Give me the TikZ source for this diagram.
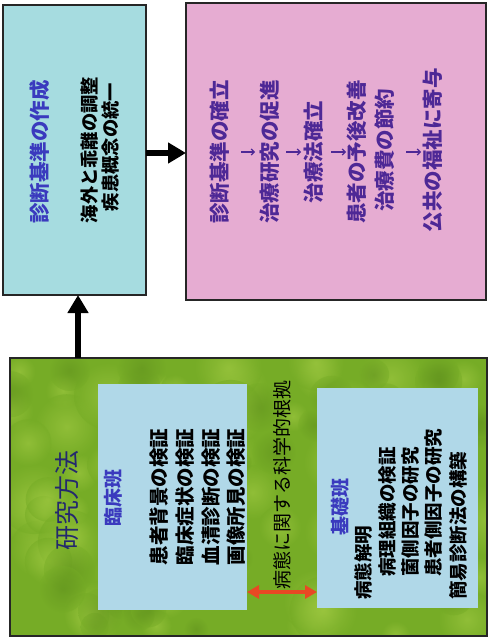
\documentclass[tikz,border=0pt]{standalone}
\usepackage{fontspec}
\setmainfont{Noto Sans CJK JP}
\usetikzlibrary{arrows.meta}
\definecolor{boxblue}{RGB}{166,220,224}
\definecolor{boxpink}{RGB}{230,172,210}
\definecolor{boxgreen}{RGB}{118,172,38}
\definecolor{greenlight}{RGB}{165,205,70}
\definecolor{greendark}{RGB}{92,140,28}
\definecolor{innerblue}{RGB}{176,216,232}
\definecolor{txtblue}{RGB}{58,58,190}
\definecolor{txtpurple}{RGB}{78,40,150}
\definecolor{txtnavy}{RGB}{36,40,110}
\definecolor{arrred}{RGB}{232,72,36}
\tikzset{
  frame/.style={draw=black!85, line width=1.3pt},
  vtext/.style={rotate=90, inner sep=0pt},
  bigarrow/.style={line width=6pt, -{Triangle[length=18pt,width=20pt]}},
  smallarr/.style={draw=txtpurple, line width=1.2pt, -{Straight Barb[length=3pt,width=6pt]}},
}
\begin{document}
\begin{tikzpicture}[x=1pt,y=-1pt]
\useasboundingbox (0,0) rectangle (489,639);
% boxes
\draw[frame, fill=boxblue] (3,5) rectangle (146,295);
\draw[frame, fill=boxpink] (186,3) rectangle (486,300);
\fill[boxgreen] (10,358) rectangle (487,636);
\begin{scope}
\clip (10,358) rectangle (487,636);
\pgfmathsetseed{7}
\foreach \i in {1,...,70}{
  \pgfmathsetmacro{\px}{10+rnd*477}
  \pgfmathsetmacro{\py}{358+rnd*278}
  \pgfmathsetmacro{\pr}{14+rnd*22}
  \shade[inner color=greenlight, outer color=boxgreen, opacity=0.55] (\px,\py) circle[radius=\pr];
}
\foreach \i in {1,...,35}{
  \pgfmathsetmacro{\px}{10+rnd*477}
  \pgfmathsetmacro{\py}{358+rnd*278}
  \pgfmathsetmacro{\pr}{10+rnd*16}
  \shade[inner color=greendark, outer color=boxgreen, opacity=0.45] (\px,\py) circle[radius=\pr];
}
\end{scope}
\draw[frame] (10,358) rectangle (487,636);
\fill[innerblue] (98,384) rectangle (247,610);
\fill[innerblue] (317,388) rectangle (478,608);
\coordinate (blueE) at (146,153);
\coordinate (pinkW) at (186,153);
\coordinate (blueS) at (78,295);
\coordinate (greenN) at (78,358);
\coordinate (clinE) at (247,592);
\coordinate (basW) at (317,592);
% arrows
\draw[bigarrow] (blueE) -- (pinkW);
\draw[bigarrow] (greenN) -- (blueS);
\draw[arrred, line width=3.5pt, {Triangle[length=12pt,width=13pt]}-{Triangle[length=12pt,width=13pt]}] (clinE) -- (basW);
% blue box text
\node[vtext, text=txtblue, font=\fontsize{20.5}{24}\selectfont\bfseries] (t1) at (40,152) {診断基準の作成};
\node[vtext, font=\fontsize{18.3}{20}\selectfont\bfseries] (t2) at (90,150) {海外と乖離の調整};
\node[vtext, font=\fontsize{18.3}{20}\selectfont\bfseries] (t3) at (111,147) {疾患概念の統一};
% pink box text
\begin{scope}[every node/.style={vtext, text=txtpurple, font=\fontsize{20.5}{24}\selectfont\bfseries}]
\node (p1) at (220,152) {診断基準の確立};
\node (p2) at (270,152) {治療研究の促進};
\node (p3) at (314,152) {治療法確立};
\node (p4) at (357,152) {患者の予後改善};
\node (p5) at (385,150) {治療費の節約};
\node (p6) at (433,150) {公共の福祉に寄与};
\end{scope}
\coordinate (a1s) at (241,152); \coordinate (a1e) at (255,152);
\coordinate (a2s) at (286,152); \coordinate (a2e) at (301,152);
\coordinate (a3s) at (331,152); \coordinate (a3e) at (346,152);
\coordinate (a4s) at (406,152); \coordinate (a4e) at (421,152);
\draw[smallarr] (a1s) -- (a1e);
\draw[smallarr] (a2s) -- (a2e);
\draw[smallarr] (a3s) -- (a3e);
\draw[smallarr] (a4s) -- (a4e);
% green box text
\node[vtext, text=txtnavy, font=\fontsize{25}{28}\selectfont] (g1) at (67,500) {研究方法};
\node[vtext, text=txtblue, font=\fontsize{19}{22}\selectfont\bfseries] (c0) at (113,498) {臨床班};
\begin{scope}[every node/.style={vtext, font=\fontsize{19.5}{22}\selectfont\bfseries}]
\node (c1) at (159,497) {患者背景の検証};
\node (c2) at (185,497) {臨床症状の検証};
\node (c3) at (211,497) {血清診断の検証};
\node (c4) at (236,497) {画像所見の検証};
\end{scope}
\node[vtext, font=\fontsize{19}{22}\selectfont] (lab) at (282,485) {病態に関する科学的根拠};
\node[vtext, text=txtblue, font=\fontsize{19}{22}\selectfont\bfseries] (b0) at (340,507) {基礎班};
\begin{scope}[every node/.style={vtext, anchor=west, font=\fontsize{18.5}{22}\selectfont\bfseries}]
\node (b1) at (363,600) {病態解明};
\node (b2) at (388,577) {病理組織の検証};
\node (b3) at (411,577) {菌側因子の研究};
\node (b4) at (434,577) {患者側因子の研究};
\node (b5) at (458,600) {簡易診断法の構築};
\end{scope}
\end{tikzpicture}
\end{document}
